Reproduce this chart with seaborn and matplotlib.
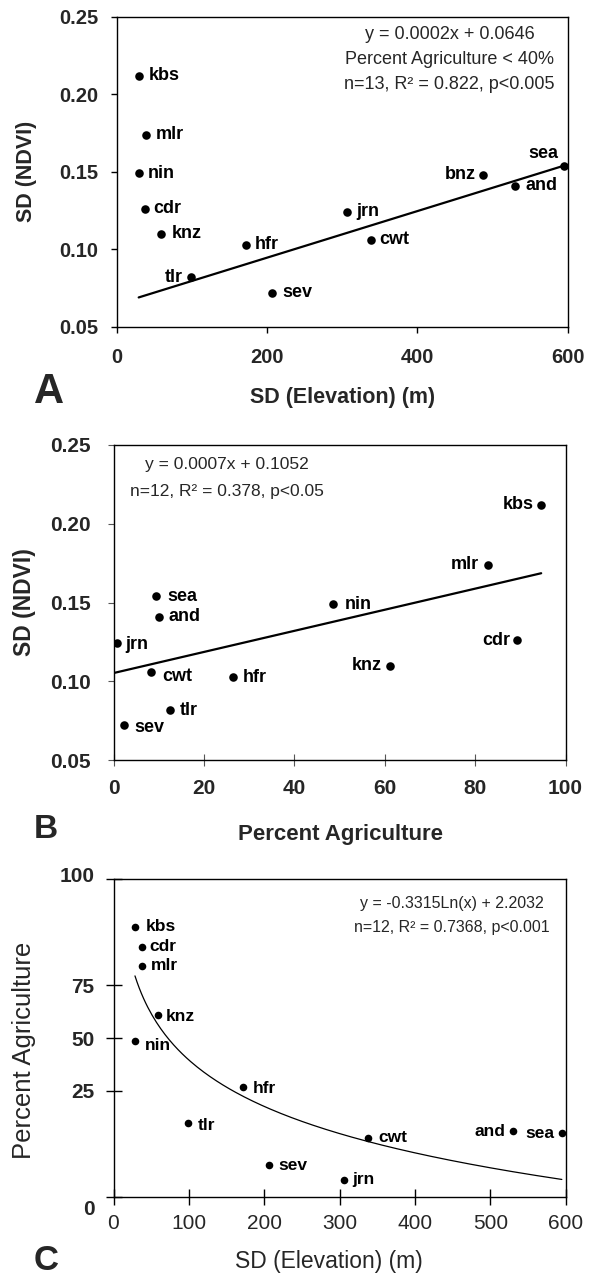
import numpy as np
import pandas as pd
import matplotlib
matplotlib.use("Agg")
import matplotlib.pyplot as plt
import matplotlib.transforms as mtransforms
import seaborn as sns

# ---------------- data ----------------
sites = ['kbs', 'mlr', 'nin', 'cdr', 'knz', 'tlr', 'hfr', 'sev', 'jrn', 'cwt', 'bnz', 'and', 'sea']
sd_elev = [29.0, 37.8, 28.5, 37.5, 58.7, 98.8, 171.7, 206.7, 305.8, 337.8, 487.3, 530.6, 595.0]
sd_ndvi = [0.212, 0.174, 0.149, 0.126, 0.110, 0.082, 0.103, 0.072, 0.124, 0.106, 0.148, 0.141, 0.154]
pct_ag = [94.6, 82.8, 48.5, 89.3, 61.2, 12.6, 26.5, 2.4, 0.7, 8.3, np.nan, 10.1, 9.5]

fit_a = (0.00015, 0.0646)     # slope, intercept of drawn line (panel A)
fit_b = (0.00067, 0.1052)     # slope, intercept (panel B)
fit_c = (-0.3315, 2.2032)     # log fit in arcsine-sqrt units (panel C)

ann_a = ['y = 0.0002x + 0.0646', 'Percent Agriculture < 40%', 'n=13, R² = 0.822, p<0.005']
ann_b = ['y = 0.0007x + 0.1052', 'n=12, R² = 0.378, p<0.05']
ann_c = ['y = -0.3315Ln(x) + 2.2032', 'n=12, R² = 0.7368, p<0.001']

ticks_a_x = [0, 200, 400, 600]
ticks_ndvi = [0.05, 0.10, 0.15, 0.20, 0.25]
ticks_b_x = [0, 20, 40, 60, 80, 100]
ticks_c_x = [0, 100, 200, 300, 400, 500, 600]
ticks_c_y = [0, 25, 50, 75, 100]

# ---------------- styling ----------------
sns.set_style('ticks')
plt.rcParams['font.family'] = ['Liberation Sans', 'DejaVu Sans']
plt.rcParams['axes.edgecolor'] = 'black'
plt.rcParams['axes.linewidth'] = 1.0

df = pd.DataFrame({'site': sites, 'sd_elev': sd_elev, 'sd_ndvi': sd_ndvi, 'pct_ag': pct_ag})
df_ag = df.dropna(subset=['pct_ag']).reset_index(drop=True)

W, H = 594, 1283
fig = plt.figure(figsize=(W / 100, H / 100), dpi=100)


def axes_px(left, top, right, bottom):
    return fig.add_axes([left / W, 1 - bottom / H, (right - left) / W, (bottom - top) / H])


axA = axes_px(117.3, 16.7, 567.5, 326.7)
axB = axes_px(113.5, 445.0, 565.6, 760.0)
axC = axes_px(113.5, 879.3, 565.6, 1196.7)

# offsets of point labels (pixels), alignment
off_a = {'kbs': (10, 0), 'mlr': (10, 0), 'nin': (9.5, 0), 'cdr': (8, 0), 'knz': (10.6, 0),
         'tlr': (-8.7, 0), 'hfr': (9, 0), 'sev': (9.5, 0), 'jrn': (10, 0), 'cwt': (8.7, 0),
         'bnz': (-7.2, 0), 'and': (10, 0), 'sea': (-5.7, 12)}
off_b = {'kbs': (-7.6, 0), 'mlr': (-9, 0), 'nin': (12, 0), 'cdr': (-6.8, 0), 'knz': (-8.3, 0),
         'sea': (11, 0), 'and': (9.5, 0), 'jrn': (9, -1), 'cwt': (11.7, -4.3), 'hfr': (9.5, -1),
         'tlr': (9.5, -1), 'sev': (10, -2)}
off_c = {'kbs': (10.6, 0), 'cdr': (7.6, 0), 'mlr': (8.7, 0), 'knz': (8.3, -1.3), 'nin': (9.5, -4.7),
         'hfr': (10.2, -1), 'tlr': (9.8, -1.7), 'sev': (9.5, 0), 'jrn': (8.7, 0), 'cwt': (10.2, 0),
         'and': (-8.3, 0), 'sea': (-7.6, 0)}


def label_points(ax, d, xcol, ycol, offs, size, weight):
    for _, r in d.iterrows():
        dx, dy = offs[r['site']]
        ax.annotate(r['site'], (r[xcol], r[ycol]), xytext=(dx, dy), textcoords='offset pixels',
                    ha='left' if dx >= 0 else 'right', va='center', fontsize=size,
                    fontweight=weight, color='black')


# ---------------- Panel A ----------------
sns.scatterplot(data=df, x='sd_elev', y='sd_ndvi', ax=axA, color='black', s=38, linewidth=0, zorder=3)
xa = np.linspace(df['sd_elev'].min(), df['sd_elev'].max(), 50)
sns.lineplot(x=xa, y=fit_a[0] * xa + fit_a[1], ax=axA, color='black', linewidth=1.6)
axA.set_xlim(0, 600)
axA.set_ylim(0.05, 0.25)
axA.set_xticks(ticks_a_x)
axA.set_yticks(ticks_ndvi)
axA.set_yticklabels([f'{v:.2f}' for v in ticks_ndvi])
axA.tick_params(direction='out', length=4.5, width=1, labelsize=14.5, color='black')
axA.tick_params(axis='x', pad=11)
axA.tick_params(axis='y', pad=9)
for t in axA.get_xticklabels() + axA.get_yticklabels():
    t.set_fontweight('bold')
axA.set_xlabel('SD (Elevation) (m)', fontsize=15.5, fontweight='bold')
axA.set_ylabel('SD (NDVI)', fontsize=15.5, fontweight='bold')
label_points(axA, df, 'sd_elev', 'sd_ndvi', off_a, 13, 'bold')
for txt, yy in zip(ann_a, [0.942, 0.861, 0.781]):
    axA.text(0.738, yy, txt, transform=axA.transAxes, ha='center', va='center', fontsize=13)

# ---------------- Panel B ----------------
sns.scatterplot(data=df_ag, x='pct_ag', y='sd_ndvi', ax=axB, color='black', s=38, linewidth=0, zorder=3)
xb = np.linspace(0, df_ag['pct_ag'].max(), 50)
sns.lineplot(x=xb, y=fit_b[0] * xb + fit_b[1], ax=axB, color='black', linewidth=1.6)
axB.set_xlim(0, 100)
axB.set_ylim(0.05, 0.25)
axB.set_xticks(ticks_b_x)
axB.set_yticks(ticks_ndvi)
axB.set_yticklabels([f'{v:.2f}' for v in ticks_ndvi])
axB.tick_params(axis='x', direction='inout', length=9, width=0.8, labelsize=15, pad=9, color='#555555')
axB.tick_params(axis='y', direction='out', length=4.5, width=0.8, labelsize=15, pad=12, color='#555555')
for t in axB.get_xticklabels() + axB.get_yticklabels():
    t.set_fontweight('bold')
axB.set_xlabel('Percent Agriculture', fontsize=16, fontweight='bold')
axB.set_ylabel('SD (NDVI)', fontsize=16.5, fontweight='bold')
label_points(axB, df_ag, 'pct_ag', 'sd_ndvi', off_b, 13, 'bold')
for txt, yy in zip(ann_b, [0.937, 0.851]):
    axB.text(0.251, yy, txt, transform=axB.transAxes, ha='center', va='center', fontsize=12.5)

# ---------------- Panel C ----------------
def fwd(p):
    return np.arcsin(np.sqrt(np.clip(np.asarray(p, dtype=float) / 100.0, 0, 1)))


def inv(t):
    return 100.0 * np.sin(np.clip(np.asarray(t, dtype=float), 0, np.pi / 2)) ** 2


axC.set_yscale('function', functions=(fwd, inv))
sns.scatterplot(data=df_ag, x='sd_elev', y='pct_ag', ax=axC, color='black', s=30, linewidth=0, zorder=3)
xc = np.linspace(df_ag['sd_elev'].min(), df_ag['sd_elev'].max(), 200)
yc = 100.0 * np.sin(fit_c[0] * np.log(xc) + fit_c[1]) ** 2
sns.lineplot(x=xc, y=yc, ax=axC, color='black', linewidth=0.9)
axC.set_xlim(0, 600)
axC.set_ylim(0, 100)
axC.set_xticks(ticks_c_x)
axC.set_yticks(ticks_c_y)
axC.set_yticklabels([str(v) for v in ticks_c_y])
axC.minorticks_off()
axC.tick_params(direction='inout', length=11, width=1, labelsize=15, color='black')
axC.tick_params(axis='x', pad=7)
axC.tick_params(axis='y', pad=8)
ylabs = axC.get_yticklabels()
for t in ylabs:
    t.set_fontweight('bold')
# the "0" label sits a little lower, the "100" a little higher
ylabs[0].set_transform(ylabs[0].get_transform() + mtransforms.ScaledTranslation(0, -11 / 100, fig.dpi_scale_trans))
ylabs[-1].set_transform(ylabs[-1].get_transform() + mtransforms.ScaledTranslation(0, 5 / 100, fig.dpi_scale_trans))
axC.set_xlabel('SD (Elevation) (m)', fontsize=16.5)
axC.set_ylabel('Percent Agriculture', fontsize=18.5)
label_points(axC, df_ag, 'sd_elev', 'pct_ag', off_c, 12.5, 'bold')
for txt, yy in zip(ann_c, [0.924, 0.849]):
    axC.text(0.749, yy, txt, transform=axC.transAxes, ha='center', va='center', fontsize=11.5)

# ---------------- label positions ----------------
for ax, xl_y, yl_x, yl_y, xl_x in [(axA, -0.229, -0.2017, 0.5, 0.5),
                                   (axB, -0.238, -0.197, 0.5, 0.502),
                                   (axC, -0.204, -0.197, 0.462, 0.477)]:
    ax.xaxis.label.set_va('center')
    ax.yaxis.label.set_va('center')
    ax.xaxis.set_label_coords(xl_x, xl_y)
    ax.yaxis.set_label_coords(yl_x, yl_y)
    for s in ax.spines.values():
        s.set_color('black')
        s.set_linewidth(1.0)
        s.set_visible(True)

# panel letters
fig.text(34 / W, 1 - 392 / H, 'A', fontsize=30, fontweight='bold', ha='left', va='center')
fig.text(34 / W, 1 - 830 / H, 'B', fontsize=24, fontweight='bold', ha='left', va='center')
fig.text(34 / W, 1 - 1261 / H, 'C', fontsize=25, fontweight='bold', ha='left', va='center')

fig.savefig('out.png', dpi=100)
